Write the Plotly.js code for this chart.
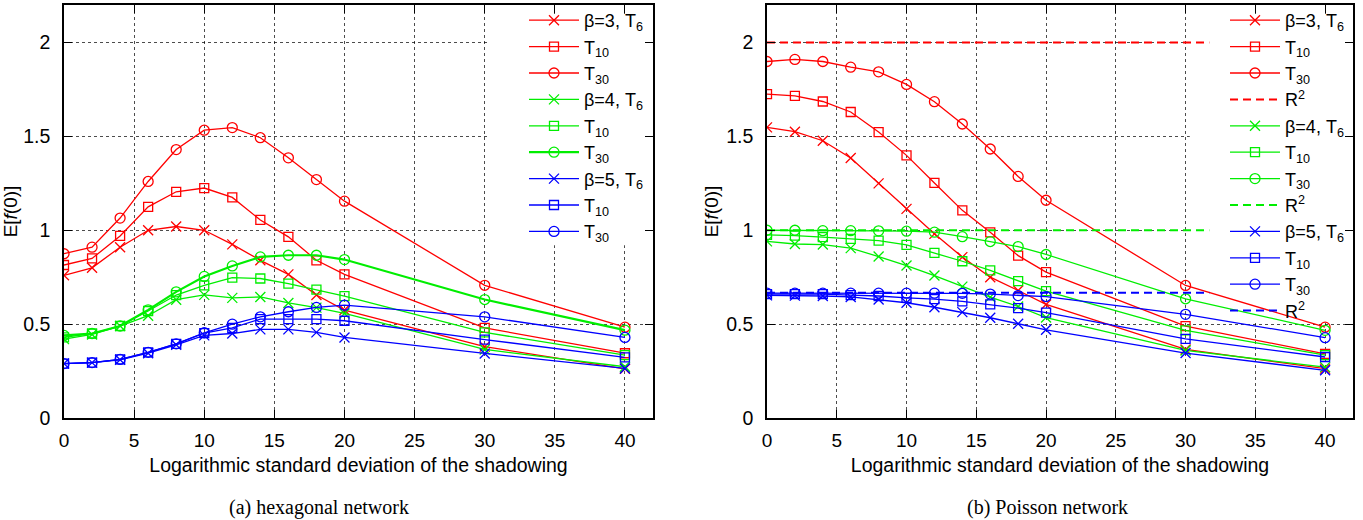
<!DOCTYPE html>
<html>
<head>
<meta charset="utf-8">
<script src="https://cdn.plot.ly/plotly-3.0.1.min.js"></script>
<style>html,body{margin:0;padding:0;background:#fff;}#chart{width:1363px;height:520px;}</style>
</head>
<body>
<div id="chart"></div>
<script>
// ---- data ----
const sigma = [0, 2, 4, 6, 8, 10, 12, 14, 16, 18, 20, 30, 40];

// (a) hexagonal network
const hexB3T6  = [0.76, 0.80, 0.91, 1.00, 1.02, 1.00, 0.925, 0.84, 0.765, 0.655, 0.575, 0.38, 0.262];
const hexB3T10 = [0.815, 0.85, 0.97, 1.125, 1.205, 1.225, 1.175, 1.055, 0.965, 0.84, 0.765, 0.48, 0.345];
const hexB3T30 = [0.875, 0.91, 1.065, 1.26, 1.43, 1.533, 1.547, 1.493, 1.386, 1.27, 1.155, 0.707, 0.484];
const hexB4T6  = [0.42, 0.445, 0.49, 0.545, 0.63, 0.656, 0.64, 0.645, 0.613, 0.588, 0.557, 0.365, 0.273];
const hexB4T10 = [0.43, 0.45, 0.49, 0.57, 0.655, 0.707, 0.748, 0.743, 0.716, 0.684, 0.649, 0.456, 0.335];
const hexB4T30 = [0.44, 0.45, 0.49, 0.576, 0.672, 0.754, 0.81, 0.858, 0.867, 0.867, 0.844, 0.631, 0.468];
const hexB5T6  = [0.29, 0.295, 0.31, 0.345, 0.39, 0.44, 0.45, 0.472, 0.472, 0.456, 0.429, 0.344, 0.264];
const hexB5T10 = [0.29, 0.295, 0.312, 0.35, 0.395, 0.452, 0.48, 0.527, 0.527, 0.527, 0.518, 0.418, 0.323];
const hexB5T30 = [0.29, 0.295, 0.312, 0.35, 0.395, 0.454, 0.50, 0.539, 0.566, 0.589, 0.601, 0.539, 0.429];

// (b) Poisson network
const poiB3T6  = [1.548, 1.525, 1.477, 1.385, 1.25, 1.114, 0.981, 0.857, 0.75, 0.679, 0.605, 0.365, 0.263];
const poiB3T10 = [1.725, 1.716, 1.686, 1.63, 1.523, 1.399, 1.252, 1.106, 0.989, 0.865, 0.777, 0.489, 0.342];
const poiB3T30 = [1.899, 1.91, 1.899, 1.869, 1.844, 1.777, 1.685, 1.566, 1.433, 1.287, 1.16, 0.706, 0.484];
const poiB4T6  = [0.941, 0.927, 0.924, 0.905, 0.86, 0.812, 0.759, 0.70, 0.644, 0.594, 0.535, 0.36, 0.271];
const poiB4T10 = [0.975, 0.972, 0.963, 0.954, 0.945, 0.922, 0.88, 0.835, 0.786, 0.729, 0.676, 0.467, 0.335];
const poiB4T30 = [1.0, 1.0, 0.998, 0.998, 0.997, 0.995, 0.99, 0.966, 0.94, 0.913, 0.871, 0.635, 0.467];
const poiB5T6  = [0.653, 0.652, 0.65, 0.645, 0.631, 0.614, 0.59, 0.564, 0.534, 0.502, 0.47, 0.346, 0.254];
const poiB5T10 = [0.66, 0.66, 0.66, 0.655, 0.65, 0.64, 0.633, 0.621, 0.605, 0.585, 0.561, 0.422, 0.325];
const poiB5T30 = [0.665, 0.665, 0.665, 0.665, 0.665, 0.665, 0.665, 0.664, 0.66, 0.652, 0.647, 0.552, 0.428];

// R^2 reference levels (beta = 3, 4, 5) and their x extent
const r2Levels = [2, 1, 0.667];
const r2X = [0, 31.7];

const xTicks = [0, 5, 10, 15, 20, 25, 30, 35, 40];
const yTicks = [0, 0.5, 1, 1.5, 2];

// ---- styling ----
const RED = '#ff0000', GREEN = '#00ee00', BLUE = '#0000ff';
const FONT = 'Liberation Sans, Arial, Helvetica, sans-serif';

function series(y, color, sym, name, xa, ya, leg, lw) {
  return {
    x: sigma, y: y, name: name, type: 'scatter', mode: 'lines+markers',
    xaxis: xa, yaxis: ya, legend: leg,
    line: {color: color, width: lw || 1.3},
    marker: {symbol: sym, size: sym === 'square-open' ? 9 : 10, color: color,
             line: {color: color, width: 1.3}},
    hoverinfo: 'x+y+name'
  };
}
function r2(level, color, xa, ya, leg) {
  return {
    x: r2X, y: [level, level], name: 'R<sup>2</sup>', type: 'scatter', mode: 'lines',
    xaxis: xa, yaxis: ya, legend: leg,
    line: {color: color, width: 2, dash: '8px,5px'}
  };
}

const T6 = 'T<sub>6</sub>', T10 = 'T<sub>10</sub>', T30 = 'T<sub>30</sub>';
const X = 'x-thin-open', SQ = 'square-open', CI = 'circle-open';

const traces = [
  series(hexB3T6, RED, X, 'β=3, ' + T6, 'x', 'y', 'legend'),
  series(hexB3T10, RED, SQ, T10, 'x', 'y', 'legend'),
  series(hexB3T30, RED, CI, T30, 'x', 'y', 'legend'),
  series(hexB4T6, GREEN, X, 'β=4, ' + T6, 'x', 'y', 'legend'),
  series(hexB4T10, GREEN, SQ, T10, 'x', 'y', 'legend'),
  series(hexB4T30, GREEN, CI, T30, 'x', 'y', 'legend', 2.2),
  series(hexB5T6, BLUE, X, 'β=5, ' + T6, 'x', 'y', 'legend'),
  series(hexB5T10, BLUE, SQ, T10, 'x', 'y', 'legend'),
  series(hexB5T30, BLUE, CI, T30, 'x', 'y', 'legend'),

  series(poiB3T6, RED, X, 'β=3, ' + T6, 'x2', 'y2', 'legend2'),
  series(poiB3T10, RED, SQ, T10, 'x2', 'y2', 'legend2'),
  series(poiB3T30, RED, CI, T30, 'x2', 'y2', 'legend2'),
  r2(r2Levels[0], RED, 'x2', 'y2', 'legend2'),
  series(poiB4T6, GREEN, X, 'β=4, ' + T6, 'x2', 'y2', 'legend2'),
  series(poiB4T10, GREEN, SQ, T10, 'x2', 'y2', 'legend2'),
  series(poiB4T30, GREEN, CI, T30, 'x2', 'y2', 'legend2'),
  r2(r2Levels[1], GREEN, 'x2', 'y2', 'legend2'),
  series(poiB5T6, BLUE, X, 'β=5, ' + T6, 'x2', 'y2', 'legend2'),
  series(poiB5T10, BLUE, SQ, T10, 'x2', 'y2', 'legend2'),
  series(poiB5T30, BLUE, CI, T30, 'x2', 'y2', 'legend2'),
  r2(r2Levels[2], BLUE, 'x2', 'y2', 'legend2')
];

const W = 1363, H = 520;
const px = v => v / W, py = v => 1 - v / H;

function xAxis(domain, anchor) {
  return {
    domain: domain, anchor: anchor, range: [0, 42], tickvals: xTicks,
    ticks: 'inside', ticklen: 8, tickwidth: 1, tickcolor: '#000',
    showline: true, linecolor: '#000', linewidth: 1.5, mirror: 'ticks',
    showgrid: true, gridcolor: 'rgba(0,0,0,0.7)', gridwidth: 1, griddash: 'dot',
    zeroline: false, tickfont: {family: FONT, size: 19, color: '#000'},
    ticklabelstandoff: 4,
    title: {text: 'Logarithmic standard deviation of the shadowing',
            font: {family: FONT, size: 19.5, color: '#000'}, standoff: 9}
  };
}
function yAxis(domain, anchor) {
  return {
    domain: domain, anchor: anchor, range: [0, 2.2], tickvals: yTicks,
    ticks: 'inside', ticklen: 8, tickwidth: 1, tickcolor: '#000',
    showline: true, linecolor: '#000', linewidth: 1.5, mirror: 'ticks',
    showgrid: true, gridcolor: 'rgba(0,0,0,0.7)', gridwidth: 1, griddash: 'dot',
    zeroline: false, tickfont: {family: FONT, size: 19.5, color: '#000'},
    ticklabelstandoff: 8,
    title: {text: 'E[<i>f</i>(0)]', font: {family: FONT, size: 19, color: '#000'}, standoff: 3}
  };
}

const yDom = [py(418), py(5)];
const layout = {
  width: W, height: H,
  margin: {l: 0, r: 0, t: 0, b: 0},
  paper_bgcolor: '#fff', plot_bgcolor: '#fff',
  font: {family: FONT, color: '#000'},
  showlegend: true,
  xaxis: xAxis([px(64), px(653)], 'y'),
  yaxis: yAxis(yDom, 'x'),
  xaxis2: xAxis([px(767), px(1353)], 'y2'),
  yaxis2: yAxis(yDom, 'x2'),
  legend: {x: px(648), xanchor: 'right', y: py(2), yanchor: 'top',
           bgcolor: 'rgba(0,0,0,0)', borderwidth: 0, itemwidth: 50,
           font: {family: FONT, size: 18, color: '#000'}, tracegroupgap: 0},
  legend2: {x: px(1349), xanchor: 'right', y: py(2), yanchor: 'top',
            bgcolor: 'rgba(0,0,0,0)', borderwidth: 0, itemwidth: 50,
            font: {family: FONT, size: 18, color: '#000'}, tracegroupgap: 0},
  shapes: [
    {type: 'rect', xref: 'x', yref: 'y', x0: 30.3, x1: 42, y0: 0.92, y1: 2.15,
     fillcolor: '#fff', line: {width: 0}, layer: 'between'},
    {type: 'rect', xref: 'x2', yref: 'y2', x0: 30.3, x1: 42, y0: 0.52, y1: 2.15,
     fillcolor: '#fff', line: {width: 0}, layer: 'between'}
  ],
  annotations: [
    {text: '(a) hexagonal network', xref: 'paper', yref: 'paper', x: px(319), y: py(507),
     showarrow: false, xanchor: 'center', yanchor: 'middle',
     font: {family: 'Liberation Serif, Times New Roman, serif', size: 20, color: '#000'}},
    {text: '(b) Poisson network', xref: 'paper', yref: 'paper', x: px(1047), y: py(507),
     showarrow: false, xanchor: 'center', yanchor: 'middle',
     font: {family: 'Liberation Serif, Times New Roman, serif', size: 20, color: '#000'}}
  ]
};

Plotly.newPlot('chart', traces, layout, {displayModeBar: false});
</script>
</body>
</html>
